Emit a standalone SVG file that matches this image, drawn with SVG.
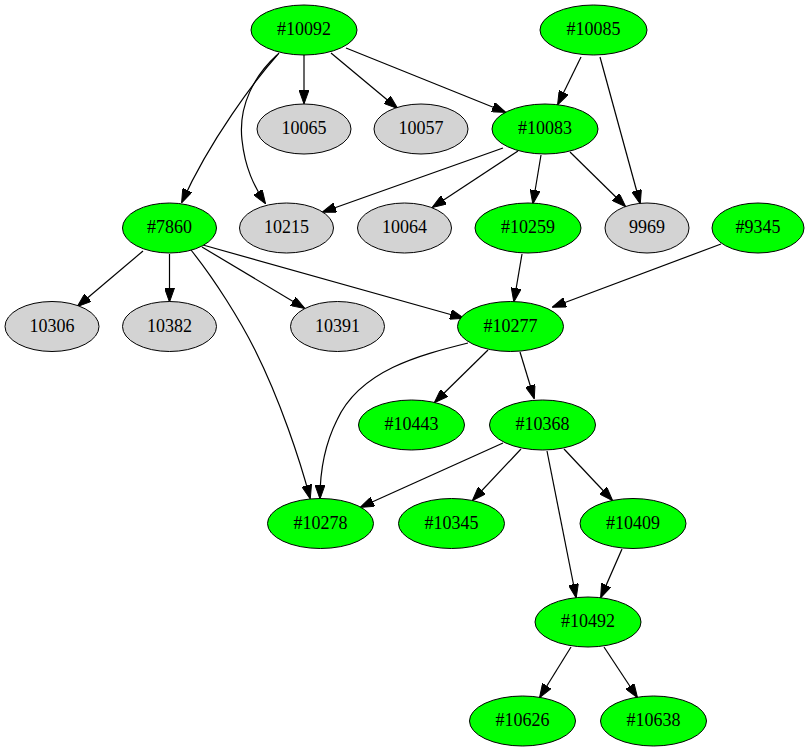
<svg xmlns="http://www.w3.org/2000/svg" width="811" height="752" viewBox="0 0 811 752">
<style>
.g ellipse{fill:#00ff00;stroke:#000;stroke-width:1}
.s ellipse{fill:#d3d3d3;stroke:#000;stroke-width:1}
text{font-family:"Liberation Serif","Times New Roman",serif;font-size:18px;text-anchor:middle;fill:#000}
#edges path{fill:none;stroke:#000;stroke-width:1.2;marker-end:url(#ah)}
</style>
<defs>
<marker id="ah" viewBox="0 0 14 10" refX="13" refY="5" markerWidth="14" markerHeight="10" markerUnits="userSpaceOnUse" orient="auto">
<path d="M0,0 L14,5 L0,10 z" fill="#000" stroke="#000" stroke-width="1"/>
</marker>
</defs>
<rect width="811" height="752" fill="#fff"/>
<g id="edges">
<path d="M304,55 L304,103"/>
<path d="M331,53 L397,108"/>
<path d="M346,48 L505,112"/>
<path d="M279,53 C255,80 210,140 182,202"/>
<path d="M277,55 C255,75 238,105 242,140 C245,168 254,186 265,203"/>
<path d="M581,57 L558,104"/>
<path d="M600,57 L640,203"/>
<path d="M503,148 L323,212"/>
<path d="M518,151 L433,207"/>
<path d="M541,155 L533,203"/>
<path d="M570,152 L625,206"/>
<path d="M143,251 L78,306"/>
<path d="M169.5,254 L169.5,301"/>
<path d="M202,247 L304,308"/>
<path d="M203,245 L463,318"/>
<path d="M191,250 C215,280 240,320 255,350 C280,400 300,460 310,498"/>
<path d="M522,254 L514,301"/>
<path d="M721,244 L553,307"/>
<path d="M468,343 C420,355 360,370 337,420 C322,450 320,480 320,498"/>
<path d="M488,350 L435,402"/>
<path d="M520,352 L534,398"/>
<path d="M503,443 L361,507"/>
<path d="M521,449 L473,500"/>
<path d="M564,449 L612,500"/>
<path d="M547,451 L576,597"/>
<path d="M622,549 L601,597"/>
<path d="M571,647 L540,697"/>
<path d="M604,647 L637,697"/>
</g>
<g id="n10092" class="g"><ellipse cx="304" cy="30" rx="53" ry="25"/><text x="304" y="35">#10092</text></g>
<g id="n10085" class="g"><ellipse cx="593.5" cy="30" rx="53.5" ry="25"/><text x="593.5" y="35">#10085</text></g>
<g id="n10065" class="s"><ellipse cx="304" cy="129" rx="47" ry="25"/><text x="304" y="134">10065</text></g>
<g id="n10057" class="s"><ellipse cx="421" cy="129" rx="47" ry="25"/><text x="421" y="134">10057</text></g>
<g id="n10083" class="g"><ellipse cx="545" cy="129" rx="53" ry="25"/><text x="545" y="134">#10083</text></g>
<g id="n7860" class="g"><ellipse cx="169.5" cy="228" rx="47" ry="25"/><text x="169.5" y="233">#7860</text></g>
<g id="n10215" class="s"><ellipse cx="286.5" cy="228" rx="47" ry="25"/><text x="286.5" y="233">10215</text></g>
<g id="n10064" class="s"><ellipse cx="404.5" cy="228" rx="47" ry="25"/><text x="404.5" y="233">10064</text></g>
<g id="n10259" class="g"><ellipse cx="528" cy="228" rx="53" ry="25"/><text x="528" y="233">#10259</text></g>
<g id="n9969" class="s"><ellipse cx="647" cy="228" rx="42" ry="25"/><text x="647" y="233">9969</text></g>
<g id="n9345" class="g"><ellipse cx="758" cy="228" rx="46" ry="25"/><text x="758" y="233">#9345</text></g>
<g id="n10306" class="s"><ellipse cx="52" cy="326.5" rx="47" ry="25"/><text x="52" y="331.5">10306</text></g>
<g id="n10382" class="s"><ellipse cx="169.5" cy="326.5" rx="47" ry="25"/><text x="169.5" y="331.5">10382</text></g>
<g id="n10391" class="s"><ellipse cx="337.5" cy="326.5" rx="47" ry="25"/><text x="337.5" y="331.5">10391</text></g>
<g id="n10277" class="g"><ellipse cx="510.5" cy="326.5" rx="53" ry="25"/><text x="510.5" y="331.5">#10277</text></g>
<g id="n10443" class="g"><ellipse cx="411.5" cy="425" rx="53" ry="25"/><text x="411.5" y="430">#10443</text></g>
<g id="n10368" class="g"><ellipse cx="542.5" cy="425" rx="53" ry="25"/><text x="542.5" y="430">#10368</text></g>
<g id="n10278" class="g"><ellipse cx="320.5" cy="523.5" rx="53" ry="25"/><text x="320.5" y="528.5">#10278</text></g>
<g id="n10345" class="g"><ellipse cx="451.5" cy="523.5" rx="53" ry="25"/><text x="451.5" y="528.5">#10345</text></g>
<g id="n10409" class="g"><ellipse cx="633" cy="523.5" rx="53" ry="25"/><text x="633" y="528.5">#10409</text></g>
<g id="n10492" class="g"><ellipse cx="588" cy="622" rx="53" ry="25"/><text x="588" y="627">#10492</text></g>
<g id="n10626" class="g"><ellipse cx="522.5" cy="721" rx="53" ry="25"/><text x="522.5" y="726">#10626</text></g>
<g id="n10638" class="g"><ellipse cx="653.5" cy="721" rx="53" ry="25"/><text x="653.5" y="726">#10638</text></g>
</svg>
